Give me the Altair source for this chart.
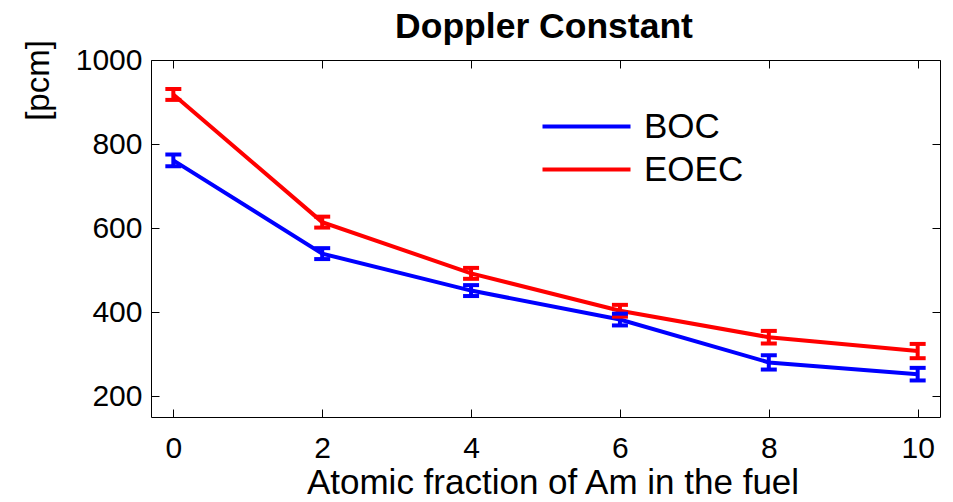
import altair as alt
import pandas as pd

# ---- data ----
x_vals = [0, 2, 4, 6, 8, 10]
boc = [761, 539, 451, 382, 280, 252]
eoec = [918, 614, 492, 403, 340, 307]
boc_err = [14, 13, 13, 14, 17, 15]
eoec_err = [13, 13, 13, 14, 15, 17]
series_names = ["BOC", "EOEC"]
series_colors = ["#0000ff", "#ff0000"]
x_ticks = [0, 2, 4, 6, 8, 10]
y_ticks = [200, 400, 600, 800, 1000]
chart_title = "Doppler Constant"
x_title = "Atomic fraction of Am in the fuel"
y_title = "[pcm]"

rows = []
for name, vals, errs in [("BOC", boc, boc_err), ("EOEC", eoec, eoec_err)]:
    for x, v, e in zip(x_vals, vals, errs):
        rows.append({"x": x, "value": v, "lo": v - e, "hi": v + e, "series": name})
df = pd.DataFrame(rows)

W, H = 789, 357
FONT = "Liberation Sans"

xscale = alt.Scale(domain=[-0.3, 10.3], nice=False, zero=False)
yscale = alt.Scale(domain=[150, 1000], nice=False, zero=False)
cscale = alt.Scale(domain=series_names, range=series_colors)

common_axis = dict(grid=False, domain=False, tickColor="black", tickWidth=1,
                   labelFont=FONT, labelColor="black", titleFont=FONT, titleColor="black")

# legend symbol: a long line (drawn with a small nominal size so rows stay compact)
legend_symbol = "M-8,0H8"

base = alt.Chart(df)

lines = base.mark_line(strokeWidth=4).encode(
    x=alt.X("x:Q", scale=xscale,
            axis=alt.Axis(orient="bottom", values=x_ticks, format="d", ticks=False, tickSize=0,
                          labelFontSize=30, labelPadding=16, title=x_title,
                          titleFontSize=35, titleFontWeight="normal", titleBaseline="alphabetic",
                          titleAlign="center", titleX=W / 2 + 7, titleY=76, **common_axis)),
    y=alt.Y("value:Q", scale=yscale,
            axis=alt.Axis(orient="left", values=y_ticks, format="d", ticks=False, tickSize=0,
                          labelFontSize=30, labelPadding=9, title=y_title, titleFontSize=33,
                          titleFontWeight="normal", titleAngle=270, titleAlign="center",
                          titleBaseline="alphabetic", titleX=-103, titleY=20, **common_axis)),
    color=alt.Color("series:N", scale=cscale,
                    legend=alt.Legend(title=None, orient="none", legendX=418, legendY=49,
                                      symbolType=legend_symbol, symbolSize=121, symbolStrokeWidth=4,
                                      labelFont=FONT, labelFontSize=35, labelColor="black",
                                      labelOffset=40, rowPadding=7, padding=0)),
)

rules = base.mark_rule(strokeWidth=4, opacity=1).encode(
    x=alt.X("x:Q", scale=xscale,
            axis=alt.Axis(orient="top", offset=-H, values=x_ticks, ticks=True, tickSize=8,
                          labels=False, title=None, **common_axis)),
    y=alt.Y("lo:Q", scale=yscale,
            axis=alt.Axis(orient="right", offset=-W, values=y_ticks, ticks=True, tickSize=8,
                          labels=False, title=None, **common_axis)),
    y2="hi:Q",
    color=alt.Color("series:N", scale=cscale, legend=None),
)

caps_lo = base.mark_tick(orient="horizontal", size=16, thickness=4, opacity=1).encode(
    x=alt.X("x:Q", scale=xscale,
            axis=alt.Axis(orient="bottom", offset=-H, values=x_ticks, ticks=True, tickSize=8,
                          labels=False, title=chart_title, titleFontSize=35.5,
                          titleFontWeight="bold", titleBaseline="alphabetic", titleAlign="center",
                          titleX=W / 2 - 2, titleY=-23, **common_axis)),
    y=alt.Y("lo:Q", scale=yscale,
            axis=alt.Axis(orient="left", offset=-W, values=y_ticks, ticks=True, tickSize=8,
                          labels=False, title=None, **common_axis)),
    color=alt.Color("series:N", scale=cscale, legend=None),
)

caps_hi = base.mark_tick(orient="horizontal", size=16, thickness=4, opacity=1).encode(
    x=alt.X("x:Q", scale=xscale, axis=None),
    y=alt.Y("hi:Q", scale=yscale, axis=None),
    color=alt.Color("series:N", scale=cscale, legend=None),
)

chart = alt.layer(lines, rules, caps_lo, caps_hi).resolve_axis(
    x="independent", y="independent"
).properties(
    width=W, height=H,
    autosize=alt.AutoSizeParams(type="none"),
    padding={"left": 143, "top": 52, "right": 5, "bottom": 77},
    background="white",
).configure_view(stroke="black", strokeWidth=1)

chart.save("out.html", embed_options={"renderer": "svg", "actions": False})
